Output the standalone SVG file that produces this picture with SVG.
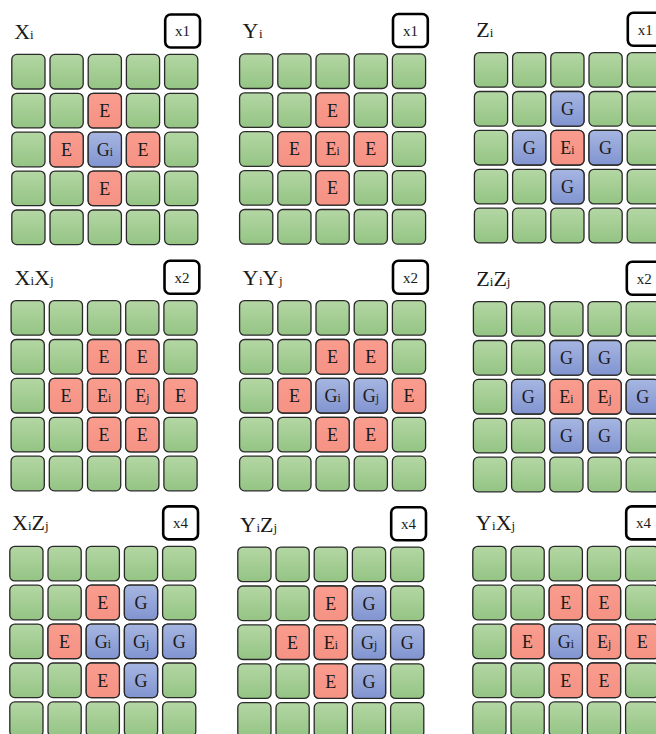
<svg xmlns="http://www.w3.org/2000/svg" xmlns:xlink="http://www.w3.org/1999/xlink" width="656" height="734" viewBox="0 0 656 734">
<defs>
<linearGradient id="gg" x1="0" y1="0" x2="0" y2="1"><stop offset="0" stop-color="#b4d7a4"/><stop offset="1" stop-color="#94c484"/></linearGradient>
<linearGradient id="gb" x1="0" y1="0" x2="0" y2="1"><stop offset="0" stop-color="#a6b6e2"/><stop offset="1" stop-color="#8194d0"/></linearGradient>
<linearGradient id="gr" x1="0" y1="0" x2="0" y2="1"><stop offset="0" stop-color="#f99c8e"/><stop offset="1" stop-color="#f59284"/></linearGradient>
<rect id="c" x="0.6" y="0.6" width="33.2" height="34.6" rx="5"/>
<g id="grid">
<use xlink:href="#c" x="0" y="0"/><use xlink:href="#c" x="38.2" y="0"/><use xlink:href="#c" x="76.4" y="0"/><use xlink:href="#c" x="114.6" y="0"/><use xlink:href="#c" x="152.8" y="0"/>
<use xlink:href="#c" x="0" y="38.9"/><use xlink:href="#c" x="38.2" y="38.9"/><use xlink:href="#c" x="76.4" y="38.9"/><use xlink:href="#c" x="114.6" y="38.9"/><use xlink:href="#c" x="152.8" y="38.9"/>
<use xlink:href="#c" x="0" y="77.8"/><use xlink:href="#c" x="38.2" y="77.8"/><use xlink:href="#c" x="76.4" y="77.8"/><use xlink:href="#c" x="114.6" y="77.8"/><use xlink:href="#c" x="152.8" y="77.8"/>
<use xlink:href="#c" x="0" y="116.7"/><use xlink:href="#c" x="38.2" y="116.7"/><use xlink:href="#c" x="76.4" y="116.7"/><use xlink:href="#c" x="114.6" y="116.7"/><use xlink:href="#c" x="152.8" y="116.7"/>
<use xlink:href="#c" x="0" y="155.6"/><use xlink:href="#c" x="38.2" y="155.6"/><use xlink:href="#c" x="76.4" y="155.6"/><use xlink:href="#c" x="114.6" y="155.6"/><use xlink:href="#c" x="152.8" y="155.6"/>
</g>
<rect id="badge" x="154" y="-39.3" width="34.8" height="33" rx="5.5"/>
</defs>
<style>
.grid{fill:url(#gg);stroke:#2a2a2a;stroke-width:1.3}
.r{fill:url(#gr);stroke:#2a2a2a;stroke-width:1.3}
.b{fill:url(#gb);stroke:#2a2a2a;stroke-width:1.3}
.bd{fill:#fff;stroke:#000;stroke-width:2.6}
text{font-family:"Liberation Serif","Times New Roman",serif;fill:#1a1a1a}
.t{font-size:22px}
.t .s{font-size:13px}
.l{font-size:18px;text-anchor:middle}
.l .s{font-size:11.5px}
.k{font-size:15px;text-anchor:middle}
</style>
<rect width="656" height="734" fill="#fff"/>

<g id="p1" transform="translate(11.2,53.8)">
<use xlink:href="#grid" class="grid"/>
<use xlink:href="#c" class="r" x="76.4" y="38.9"/><use xlink:href="#c" class="r" x="38.2" y="77.8"/><use xlink:href="#c" class="b" x="76.4" y="77.8"/><use xlink:href="#c" class="r" x="114.6" y="77.8"/><use xlink:href="#c" class="r" x="76.4" y="116.7"/>
<text class="l" x="93.6" y="63.3">E</text><text class="l" x="55.4" y="102.2">E</text><text class="l" x="93.6" y="102.2">G<tspan class="s">i</tspan></text><text class="l" x="131.8" y="102.2">E</text><text class="l" x="93.6" y="141.1">E</text>
<use xlink:href="#badge" class="bd"/><text class="k" x="171.4" y="-17.5">x1</text>
<text class="t" x="3" y="-15">X<tspan class="s">i</tspan></text>
</g>

<g id="p2" transform="translate(239,53.3)">
<use xlink:href="#grid" class="grid"/>
<use xlink:href="#c" class="r" x="76.4" y="38.9"/><use xlink:href="#c" class="r" x="38.2" y="77.8"/><use xlink:href="#c" class="r" x="76.4" y="77.8"/><use xlink:href="#c" class="r" x="114.6" y="77.8"/><use xlink:href="#c" class="r" x="76.4" y="116.7"/>
<text class="l" x="93.6" y="63.3">E</text><text class="l" x="55.4" y="102.2">E</text><text class="l" x="93.6" y="102.2">E<tspan class="s">i</tspan></text><text class="l" x="131.8" y="102.2">E</text><text class="l" x="93.6" y="141.1">E</text>
<use xlink:href="#badge" class="bd"/><text class="k" x="171.4" y="-17.5">x1</text>
<text class="t" x="3.5" y="-15">Y<tspan class="s" dx="0.5">i</tspan></text>
</g>

<g id="p3" transform="translate(473.8,52)">
<use xlink:href="#grid" class="grid"/>
<use xlink:href="#c" class="b" x="76.4" y="38.9"/><use xlink:href="#c" class="b" x="38.2" y="77.8"/><use xlink:href="#c" class="r" x="76.4" y="77.8"/><use xlink:href="#c" class="b" x="114.6" y="77.8"/><use xlink:href="#c" class="b" x="76.4" y="116.7"/>
<text class="l" x="93.6" y="63.3">G</text><text class="l" x="55.4" y="102.2">G</text><text class="l" x="93.6" y="102.2">E<tspan class="s">i</tspan></text><text class="l" x="131.8" y="102.2">G</text><text class="l" x="93.6" y="141.1">G</text>
<use xlink:href="#badge" class="bd"/><text class="k" x="171.4" y="-17.5">x1</text>
<text class="t" x="2.5" y="-15">Z<tspan class="s">i</tspan></text>
</g>

<g id="p4" transform="translate(10.5,300)">
<use xlink:href="#grid" class="grid"/>
<use xlink:href="#c" class="r" x="76.4" y="38.9"/><use xlink:href="#c" class="r" x="114.6" y="38.9"/><use xlink:href="#c" class="r" x="38.2" y="77.8"/><use xlink:href="#c" class="r" x="76.4" y="77.8"/><use xlink:href="#c" class="r" x="114.6" y="77.8"/><use xlink:href="#c" class="r" x="152.8" y="77.8"/><use xlink:href="#c" class="r" x="76.4" y="116.7"/><use xlink:href="#c" class="r" x="114.6" y="116.7"/>
<text class="l" x="93.6" y="63.3">E</text><text class="l" x="131.8" y="63.3">E</text><text class="l" x="55.4" y="102.2">E</text><text class="l" x="93.6" y="102.2">E<tspan class="s">i</tspan></text><text class="l" x="131.8" y="102.2">E<tspan class="s">j</tspan></text><text class="l" x="170" y="102.2">E</text><text class="l" x="93.6" y="141.1">E</text><text class="l" x="131.8" y="141.1">E</text>
<use xlink:href="#badge" class="bd"/><text class="k" x="171.4" y="-17.5">x2</text>
<text class="t" x="4" y="-15">X<tspan class="s">i</tspan>X<tspan class="s">j</tspan></text>
</g>

<g id="p5" transform="translate(239,300)">
<use xlink:href="#grid" class="grid"/>
<use xlink:href="#c" class="r" x="76.4" y="38.9"/><use xlink:href="#c" class="r" x="114.6" y="38.9"/><use xlink:href="#c" class="r" x="38.2" y="77.8"/><use xlink:href="#c" class="b" x="76.4" y="77.8"/><use xlink:href="#c" class="b" x="114.6" y="77.8"/><use xlink:href="#c" class="r" x="152.8" y="77.8"/><use xlink:href="#c" class="r" x="76.4" y="116.7"/><use xlink:href="#c" class="r" x="114.6" y="116.7"/>
<text class="l" x="93.6" y="63.3">E</text><text class="l" x="131.8" y="63.3">E</text><text class="l" x="55.4" y="102.2">E</text><text class="l" x="93.6" y="102.2">G<tspan class="s">i</tspan></text><text class="l" x="131.8" y="102.2">G<tspan class="s">j</tspan></text><text class="l" x="170" y="102.2">E</text><text class="l" x="93.6" y="141.1">E</text><text class="l" x="131.8" y="141.1">E</text>
<use xlink:href="#badge" class="bd"/><text class="k" x="171.4" y="-17.5">x2</text>
<text class="t" x="3.5" y="-15">Y<tspan class="s" dx="0.5">i</tspan>Y<tspan class="s" dx="0.5">j</tspan></text>
</g>

<g id="p6" transform="translate(472.8,301)">
<use xlink:href="#grid" class="grid"/>
<use xlink:href="#c" class="b" x="76.4" y="38.9"/><use xlink:href="#c" class="b" x="114.6" y="38.9"/><use xlink:href="#c" class="b" x="38.2" y="77.8"/><use xlink:href="#c" class="r" x="76.4" y="77.8"/><use xlink:href="#c" class="r" x="114.6" y="77.8"/><use xlink:href="#c" class="b" x="152.8" y="77.8"/><use xlink:href="#c" class="b" x="76.4" y="116.7"/><use xlink:href="#c" class="b" x="114.6" y="116.7"/>
<text class="l" x="93.6" y="63.3">G</text><text class="l" x="131.8" y="63.3">G</text><text class="l" x="55.4" y="102.2">G</text><text class="l" x="93.6" y="102.2">E<tspan class="s">i</tspan></text><text class="l" x="131.8" y="102.2">E<tspan class="s">j</tspan></text><text class="l" x="170" y="102.2">G</text><text class="l" x="93.6" y="141.1">G</text><text class="l" x="131.8" y="141.1">G</text>
<use xlink:href="#badge" class="bd"/><text class="k" x="171.4" y="-17.5">x2</text>
<text class="t" x="3.5" y="-15">Z<tspan class="s">i</tspan>Z<tspan class="s">j</tspan></text>
</g>

<g id="p7" transform="translate(9.2,545.7)">
<use xlink:href="#grid" class="grid"/>
<use xlink:href="#c" class="r" x="76.4" y="38.9"/><use xlink:href="#c" class="b" x="114.6" y="38.9"/><use xlink:href="#c" class="r" x="38.2" y="77.8"/><use xlink:href="#c" class="b" x="76.4" y="77.8"/><use xlink:href="#c" class="b" x="114.6" y="77.8"/><use xlink:href="#c" class="b" x="152.8" y="77.8"/><use xlink:href="#c" class="r" x="76.4" y="116.7"/><use xlink:href="#c" class="b" x="114.6" y="116.7"/>
<text class="l" x="93.6" y="63.3">E</text><text class="l" x="131.8" y="63.3">G</text><text class="l" x="55.4" y="102.2">E</text><text class="l" x="93.6" y="102.2">G<tspan class="s">i</tspan></text><text class="l" x="131.8" y="102.2">G<tspan class="s">j</tspan></text><text class="l" x="170" y="102.2">G</text><text class="l" x="93.6" y="141.1">E</text><text class="l" x="131.8" y="141.1">G</text>
<use xlink:href="#badge" class="bd"/><text class="k" x="171.4" y="-17.5">x4</text>
<text class="t" x="2.8" y="-15.5">X<tspan class="s">i</tspan>Z<tspan class="s">j</tspan></text>
</g>

<g id="p8" transform="translate(237.2,546.5)">
<use xlink:href="#grid" class="grid"/>
<use xlink:href="#c" class="r" x="76.4" y="38.9"/><use xlink:href="#c" class="b" x="114.6" y="38.9"/><use xlink:href="#c" class="r" x="38.2" y="77.8"/><use xlink:href="#c" class="r" x="76.4" y="77.8"/><use xlink:href="#c" class="b" x="114.6" y="77.8"/><use xlink:href="#c" class="b" x="152.8" y="77.8"/><use xlink:href="#c" class="r" x="76.4" y="116.7"/><use xlink:href="#c" class="b" x="114.6" y="116.7"/>
<text class="l" x="93.6" y="63.3">E</text><text class="l" x="131.8" y="63.3">G</text><text class="l" x="55.4" y="102.2">E</text><text class="l" x="93.6" y="102.2">E<tspan class="s">i</tspan></text><text class="l" x="131.8" y="102.2">G<tspan class="s">j</tspan></text><text class="l" x="170" y="102.2">G</text><text class="l" x="93.6" y="141.1">E</text><text class="l" x="131.8" y="141.1">G</text>
<use xlink:href="#badge" class="bd"/><text class="k" x="171.4" y="-17.5">x4</text>
<text class="t" x="2.8" y="-15">Y<tspan class="s" dx="0.5">i</tspan>Z<tspan class="s">j</tspan></text>
</g>

<g id="p9" transform="translate(472.2,545.7)">
<use xlink:href="#grid" class="grid"/>
<use xlink:href="#c" class="r" x="76.4" y="38.9"/><use xlink:href="#c" class="r" x="114.6" y="38.9"/><use xlink:href="#c" class="r" x="38.2" y="77.8"/><use xlink:href="#c" class="b" x="76.4" y="77.8"/><use xlink:href="#c" class="r" x="114.6" y="77.8"/><use xlink:href="#c" class="r" x="152.8" y="77.8"/><use xlink:href="#c" class="r" x="76.4" y="116.7"/><use xlink:href="#c" class="r" x="114.6" y="116.7"/>
<text class="l" x="93.6" y="63.3">E</text><text class="l" x="131.8" y="63.3">E</text><text class="l" x="55.4" y="102.2">E</text><text class="l" x="93.6" y="102.2">G<tspan class="s">i</tspan></text><text class="l" x="131.8" y="102.2">E<tspan class="s">j</tspan></text><text class="l" x="170" y="102.2">E</text><text class="l" x="93.6" y="141.1">E</text><text class="l" x="131.8" y="141.1">E</text>
<use xlink:href="#badge" class="bd"/><text class="k" x="171.4" y="-17.5">x4</text>
<text class="t" x="3.5" y="-15.5">Y<tspan class="s" dx="0.5">i</tspan>X<tspan class="s">j</tspan></text>
</g>

<g id="connectors"/>
</svg>
